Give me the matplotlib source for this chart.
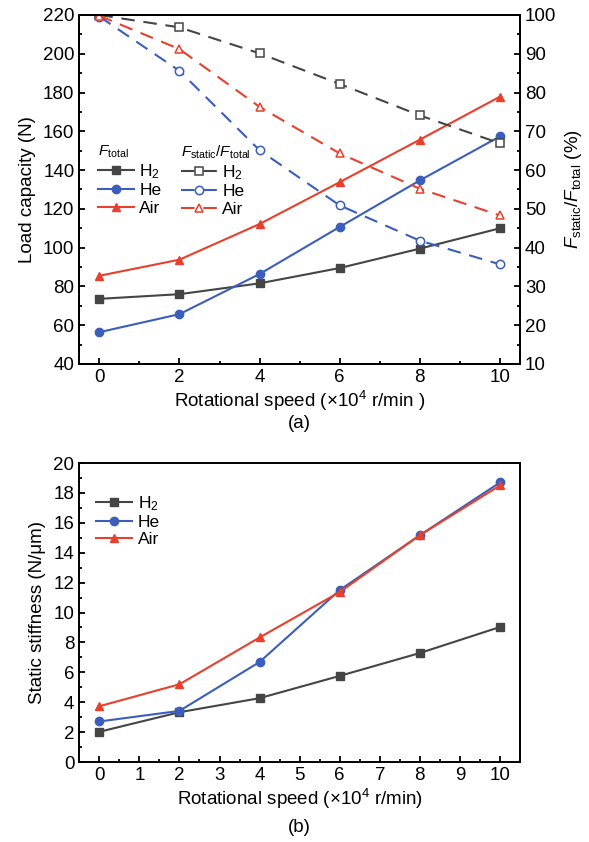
import matplotlib
matplotlib.use('Agg')
import matplotlib.pyplot as plt
from matplotlib.ticker import MultipleLocator

plt.rcParams['font.family'] = ['Liberation Sans', 'DejaVu Sans']
plt.rcParams['mathtext.fontset'] = 'custom'
plt.rcParams['mathtext.rm'] = 'Liberation Sans'
plt.rcParams['mathtext.it'] = 'Liberation Sans:italic'
plt.rcParams['mathtext.bf'] = 'Liberation Sans:bold'
plt.rcParams['axes.linewidth'] = 1.4

# ---- data ----
speed = [0, 2, 4, 6, 8, 10]
gas_labels = ['H$_2$', 'He', 'Air']

load_h2 = [73.6, 76.0, 81.6, 89.5, 99.5, 110.0]
load_he = [56.4, 65.7, 86.4, 110.7, 134.7, 157.4]
load_air = [85.5, 93.8, 112.2, 133.8, 155.7, 177.9]

ratio_h2 = [100.0, 96.8, 90.1, 82.2, 74.1, 66.9]
ratio_he = [99.6, 85.6, 65.1, 50.9, 41.8, 35.7]
ratio_air = [99.8, 91.2, 76.3, 64.3, 55.2, 48.3]

stiff_h2 = [2.02, 3.33, 4.27, 5.76, 7.29, 9.03]
stiff_he = [2.71, 3.42, 6.69, 11.5, 15.17, 18.7]
stiff_air = [3.73, 5.2, 8.33, 11.37, 15.17, 18.5]

colors = ['#454545', '#3b5ebd', '#e8402c']
markers = ['s', 'o', '^']

FS = 13.5
LFS = 12.5
TFS = 11
LW = 1.5
MS = 6
DASH = (0, (6.5, 4.2))

fig = plt.figure(figsize=(5.89, 8.42), dpi=100)

# ---- (a) load capacity and static ratio ----
ax = fig.add_axes([0.1346, 0.5677, 0.7483, 0.4145])
ax2 = ax.twinx()

loads = [load_h2, load_he, load_air]
ratios = [ratio_h2, ratio_he, ratio_air]

solid_handles = []
dash_handles = []
for c, m, lab, ld, rt in zip(colors, markers, gas_labels, loads, ratios):
    h1, = ax.plot(speed, ld, color=c, marker=m, ms=MS, lw=LW, label=lab, zorder=3)
    h2, = ax2.plot(speed, rt, color=c, marker=m, ms=MS, lw=LW, ls=DASH,
                   mfc='white', mec=c, mew=1.1, label=lab, zorder=2)
    solid_handles.append(h1)
    dash_handles.append(h2)

ax.set_xlim(-0.5, 10.5)
ax.set_ylim(40, 220)
ax2.set_ylim(10, 100)
ax.xaxis.set_major_locator(MultipleLocator(2))
ax.xaxis.set_minor_locator(MultipleLocator(1))
ax.yaxis.set_major_locator(MultipleLocator(20))
ax.yaxis.set_minor_locator(MultipleLocator(10))
ax2.yaxis.set_major_locator(MultipleLocator(10))
ax2.yaxis.set_minor_locator(MultipleLocator(5))

for a in (ax, ax2):
    a.tick_params(which='both', direction='in', labelsize=FS, width=1.3)
    a.tick_params(which='major', length=4.5)
    a.tick_params(which='minor', length=2.5)
ax.tick_params(which='both', top=False, right=False)
ax2.tick_params(which='both', left=False, right=True)

ax.set_ylabel('Load capacity (N)', fontsize=FS, labelpad=5)
ax2.set_ylabel(r'$F_{\mathrm{static}}/F_{\mathrm{total}}$ (%)', fontsize=FS, labelpad=5)
ax.set_xlabel(r'Rotational speed ($\times$10$^4$ r/min )', fontsize=FS, labelpad=2)

leg_kw = dict(loc='upper left', frameon=False, fontsize=LFS, title_fontsize=TFS,
              handlelength=2.1, handletextpad=0.3, labelspacing=0.12,
              borderpad=0, alignment='left')
leg1 = ax.legend(handles=solid_handles, title=r'$F_{\mathrm{total}}$',
                 bbox_to_anchor=(0.022, 0.655), **leg_kw)
ax.add_artist(leg1)
leg2 = ax.legend(handles=dash_handles,
                 title=r'$F_{\mathrm{static}}/F_{\mathrm{total}}$',
                 bbox_to_anchor=(0.21, 0.655), **leg_kw)

fig.text(0.508, 1 - 424 / 842, '(a)', ha='center', va='center', fontsize=FS)

# ---- (b) static stiffness ----
bx = fig.add_axes([0.1346, 0.0950, 0.7483, 0.3551])
stiffs = [stiff_h2, stiff_he, stiff_air]
for c, m, lab, st in zip(colors, markers, gas_labels, stiffs):
    bx.plot(speed, st, color=c, marker=m, ms=MS, lw=LW, label=lab)

bx.set_xlim(-0.5, 10.5)
bx.set_ylim(0, 20)
bx.xaxis.set_major_locator(MultipleLocator(1))
bx.xaxis.set_minor_locator(MultipleLocator(0.5))
bx.yaxis.set_major_locator(MultipleLocator(2))
bx.yaxis.set_minor_locator(MultipleLocator(1))
bx.tick_params(which='both', direction='in', labelsize=FS, width=1.3,
               top=False, right=False)
bx.tick_params(which='major', length=4.5)
bx.tick_params(which='minor', length=2.5)
bx.set_ylabel('Static stiffness (N/\u03bcm)', fontsize=FS, labelpad=5)
bx.set_xlabel(r'Rotational speed ($\times$10$^4$ r/min)', fontsize=FS, labelpad=2)
bx.legend(loc='upper left', bbox_to_anchor=(0.018, 0.925), frameon=False,
          fontsize=LFS, handlelength=2.1, handletextpad=0.3,
          labelspacing=0.12, borderpad=0)

fig.text(0.508, 1 - 828 / 842, '(b)', ha='center', va='center', fontsize=FS)

fig.savefig('out.png', dpi=100)
